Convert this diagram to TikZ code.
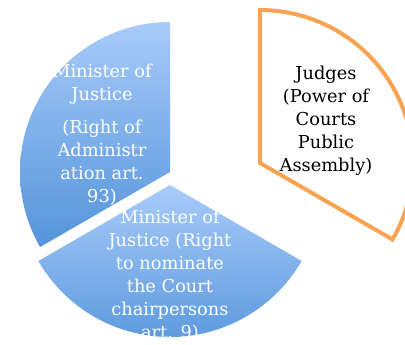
\documentclass[tikz,border=0pt]{standalone}
\usepackage{fontspec}
\setmainfont{DejaVu Serif}
\definecolor{bluetop}{RGB}{168,203,250}
\definecolor{bluebot}{RGB}{84,148,218}
\definecolor{orangeline}{RGB}{247,164,82}
\begin{document}
\begin{tikzpicture}[x=1pt,y=1pt,
  lbl/.style={align=center, font=\fontsize{17.8}{23}\selectfont, inner sep=0pt},
  wlbl/.style={lbl, text=white},
  blueshade/.style={top color=bluetop, bottom color=bluebot, draw=none},
  judgesector/.style={draw=orangeline, line width=4pt, fill=white, line join=miter}]
\useasboundingbox (0,0) rectangle (405,345);
\clip (0,0) rectangle (405,345);
% left sector
\shade[blueshade] (170,173) -- ++(90:150) arc[start angle=90, end angle=210, radius=150] -- cycle;
% bottom sector
\shade[blueshade] (170,160) -- ++(210:152) arc[start angle=210, end angle=330, radius=152] -- cycle;
% right sector
\draw[judgesector] (260,182) -- ++(-30:153) arc[start angle=-30, end angle=90, radius=153] -- cycle;
% labels
\node[wlbl] (mj1) at (102,260.5) {Minister of\\Justice};
\node[wlbl] (ra) at (102,182) {(Right of\\Administr\\ation art.\\93)};
\node[wlbl] (mj2) at (170,69.5) {Minister of\\Justice (Right\\to nominate\\the Court\\chairpersons\\art. 9)};
\node[lbl] (jd) at (326,224) {Judges\\(Power of\\Courts\\Public\\Assembly)};
\end{tikzpicture}
\end{document}
